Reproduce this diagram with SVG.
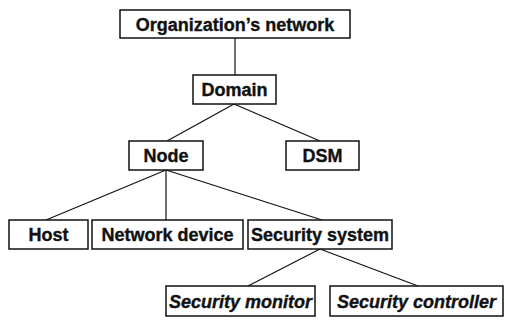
<svg xmlns="http://www.w3.org/2000/svg" width="505" height="320" viewBox="0 0 505 320">
<style>
.box{fill:#fff;stroke:#111;stroke-width:1.5}
.lbl{font-family:"Liberation Sans",Arial,sans-serif;font-weight:bold;font-size:18px;fill:#111;stroke:#111;stroke-width:0.35;text-anchor:middle}
.it{font-style:italic}
.edge{stroke:#111;stroke-width:1.2;fill:none}
</style>
<rect width="505" height="320" fill="#fff"/>
<g id="connectors">
<line class="edge" x1="235" y1="38" x2="235" y2="75"/>
<line class="edge" x1="234" y1="104" x2="167" y2="141"/>
<line class="edge" x1="234" y1="104" x2="320" y2="141"/>
<line class="edge" x1="166" y1="170" x2="46" y2="220"/>
<line class="edge" x1="166" y1="170" x2="166" y2="220"/>
<line class="edge" x1="166" y1="170" x2="322" y2="220"/>
<line class="edge" x1="320" y1="249" x2="248" y2="286"/>
<line class="edge" x1="320" y1="249" x2="418" y2="286"/>
</g>
<g id="org"><rect class="box" x="120" y="10" width="230" height="28"/><text class="lbl" x="235" y="30.5">Organization’s network</text></g>
<g id="domain"><rect class="box" x="193" y="75" width="83" height="29"/><text class="lbl" x="234.5" y="96">Domain</text></g>
<g id="node"><rect class="box" x="129" y="141" width="74" height="29"/><text class="lbl" x="166" y="162">Node</text></g>
<g id="dsm"><rect class="box" x="286" y="141" width="73" height="29"/><text class="lbl" x="322.5" y="162">DSM</text></g>
<g id="host"><rect class="box" x="9" y="220" width="79" height="29"/><text class="lbl" x="48.5" y="241">Host</text></g>
<g id="netdev"><rect class="box" x="92" y="220" width="151" height="29"/><text class="lbl" x="167.5" y="241">Network device</text></g>
<g id="secsys"><rect class="box" x="248" y="220" width="144" height="29"/><text class="lbl" x="320" y="241">Security system</text></g>
<g id="secmon"><rect class="box" x="166" y="286" width="149" height="30"/><text class="lbl it" x="240.5" y="307.5">Security monitor</text></g>
<g id="secctl"><rect class="box" x="330" y="286" width="173" height="30"/><text class="lbl it" x="416.5" y="307.5">Security controller</text></g>
</svg>
